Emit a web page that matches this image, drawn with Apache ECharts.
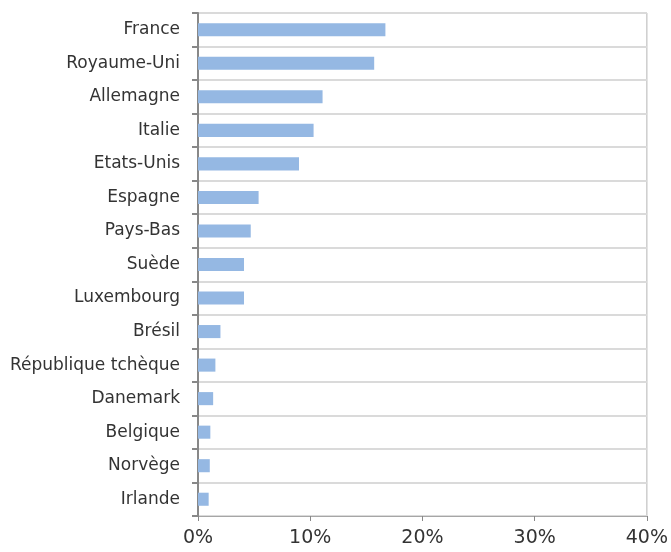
<!DOCTYPE html>
<html><head><meta charset="utf-8">
<script src="https://cdn.jsdelivr.net/npm/echarts@6/dist/echarts.min.js"></script>
<style>html,body{margin:0;padding:0;background:#fff}#c{width:671px;height:552px}</style>
</head><body><div id="c"></div>
<script>
const categories = ["France","Royaume-Uni","Allemagne","Italie","Etats-Unis","Espagne","Pays-Bas","Suède","Luxembourg","Brésil","République tchèque","Danemark","Belgique","Norvège","Irlande"];
const values = [16.7, 15.7, 11.1, 10.3, 9.0, 5.4, 4.7, 4.1, 4.1, 2.0, 1.55, 1.35, 1.1, 1.05, 0.95];
const xTicks = [0, 10, 20, 30, 40];

const chart = echarts.init(document.getElementById('c'), null, {renderer: 'canvas'});
chart.setOption({
  animation: false,
  grid: {left: 198, right: 24, top: 13, bottom: 36, show: true, borderColor: '#b4b4b4', borderWidth: 1},
  xAxis: {
    type: 'value', min: xTicks[0], max: xTicks[xTicks.length-1], interval: 10,
    axisLine: {show: true, lineStyle: {color: '#a6a6a6', width: 1}},
    axisTick: {show: true, length: 5, lineStyle: {color: '#888'}},
    splitLine: {show: false},
    axisLabel: {formatter: v => v + '%', fontSize: 19, color: '#333', fontFamily: 'DejaVu Sans', margin: 13}
  },
  yAxis: {
    type: 'category', data: categories, inverse: true,
    axisLine: {show: true, lineStyle: {color: '#888', width: 2}},
    axisTick: {show: true, length: 6, lineStyle: {color: '#888', width: 2}},
    splitLine: {show: true, lineStyle: {color: '#dadada', width: 2}},
    axisLabel: {fontSize: 17, color: '#333', fontFamily: 'DejaVu Sans', margin: 18}
  },
  series: [{
    type: 'bar', data: values, barWidth: '39%',
    itemStyle: {color: '#95b8e3'}
  }]
});
</script></body></html>
